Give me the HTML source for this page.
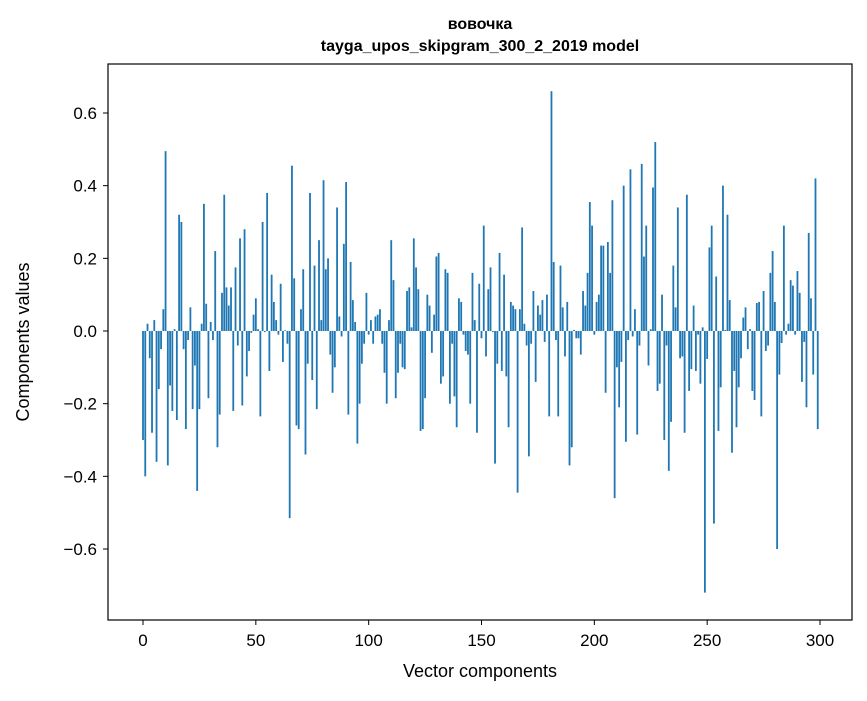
<!DOCTYPE html>
<html><head><meta charset="utf-8"><style>
body{margin:0;background:#fff;}
svg text{font-family:"Liberation Sans","DejaVu Sans",sans-serif;fill:#000;}
</style></head><body>
<svg id="chart" width="867" height="696" xmlns="http://www.w3.org/2000/svg">
<rect width="867" height="696" fill="#fff"/>
<text x="480" y="29" text-anchor="middle" font-size="16" font-weight="bold">вовочка</text>
<text x="480" y="51" text-anchor="middle" font-size="16" font-weight="bold">tayga_upos_skipgram_300_2_2019 model</text>
<g id="bars"></g>
<g id="axes"></g>
<rect x="108" y="64" width="744" height="556" fill="none" stroke="#000" stroke-width="1.2"/>
<text x="480" y="677" text-anchor="middle" font-size="18">Vector components</text>
<text transform="translate(29,342) rotate(-90)" text-anchor="middle" font-size="18">Components values</text>
</svg>
<script>
const values = [
-0.30,-0.40,0.02,-0.075,-0.28,0.03,-0.36,-0.16,-0.05,0.06,
0.495,-0.37,-0.15,-0.22,0.005,-0.245,0.32,0.30,-0.05,-0.27,
-0.025,0.065,-0.215,-0.095,-0.44,-0.215,0.02,0.35,0.075,-0.185,
0.025,-0.025,0.22,-0.32,-0.23,0.105,0.375,0.12,0.07,0.12,
-0.22,0.175,-0.04,0.255,-0.205,0.28,-0.125,-0.055,-0.005,0.045,
0.09,0.005,-0.235,0.30,-0.003,0.38,-0.11,0.155,0.08,0.03,
-0.01,0.13,-0.085,0.002,-0.035,-0.515,0.455,0.145,-0.26,-0.27,
0.06,0.17,-0.34,-0.09,0.38,-0.135,0.18,-0.215,0.25,0.03,
0.415,0.17,0.20,-0.065,-0.17,-0.10,0.34,0.04,-0.015,0.24,
0.41,-0.23,0.19,0.085,0.025,-0.31,-0.20,-0.09,-0.035,0.105,
-0.01,0.03,-0.035,0.04,0.045,0.06,-0.035,-0.115,-0.20,0.03,
0.25,0.14,-0.185,-0.115,-0.035,-0.10,-0.105,0.11,0.12,0.01,
0.255,0.175,0.115,-0.275,-0.27,-0.185,0.10,0.07,-0.06,0.045,
0.205,0.215,-0.145,-0.125,0.17,0.16,-0.20,-0.035,-0.18,-0.265,
0.09,0.08,-0.01,-0.055,-0.065,-0.20,0.16,0.03,-0.28,0.13,
-0.02,0.29,-0.07,0.115,0.175,-0.003,-0.365,-0.09,0.215,-0.11,
0.155,-0.125,-0.265,0.08,0.07,0.06,-0.445,0.06,0.285,0.02,
-0.04,-0.345,-0.035,0.11,-0.14,0.07,0.045,0.085,-0.03,0.10,
-0.235,0.66,0.19,-0.025,-0.235,0.18,0.065,-0.07,0.08,-0.37,
-0.32,0.003,-0.02,-0.02,-0.065,0.11,0.07,0.16,0.355,0.29,
-0.01,0.08,0.10,0.235,0.235,-0.17,0.245,0.16,0.36,-0.46,
-0.10,-0.21,-0.085,0.40,-0.305,-0.025,0.445,-0.015,0.06,-0.285,
-0.04,0.46,0.205,0.29,-0.095,0.005,0.395,0.52,-0.165,-0.145,
0.10,-0.30,-0.04,-0.385,-0.25,0.18,0.065,0.34,-0.075,-0.07,
-0.28,0.375,-0.165,-0.105,0.07,-0.11,-0.01,-0.145,0.01,-0.72,
-0.077,0.23,0.29,-0.53,0.15,-0.275,-0.155,0.40,0.003,0.32,
0.085,-0.335,-0.11,-0.265,-0.155,-0.075,0.037,0.065,-0.05,0.005,
-0.165,-0.19,0.077,0.08,-0.235,0.11,-0.055,-0.04,0.16,0.22,
0.08,-0.60,-0.12,-0.033,0.29,-0.01,0.02,0.14,0.125,-0.01,
0.165,0.105,-0.14,-0.03,-0.21,0.27,0.09,-0.12,0.42,-0.27
];
const xTicks = [0,50,100,150,200,250,300];
const yTicks = [-0.6,-0.4,-0.2,0.0,0.2,0.4,0.6];
const yTickLabels = ["\u22120.6","\u22120.4","\u22120.2","0.0","0.2","0.4","0.6"];

const NS = "http://www.w3.org/2000/svg";
const xScale = v => 143 + v * (677 / 300);
const yScale = v => 331 - v * (218 / 0.6);
const barW = 0.8 * (677 / 300);
const bars = document.getElementById('bars');
values.forEach((v, i) => {
  const r = document.createElementNS(NS, 'rect');
  const y0 = yScale(0), y1 = yScale(v);
  r.setAttribute('x', xScale(i) - barW / 2);
  r.setAttribute('y', Math.min(y0, y1));
  r.setAttribute('width', barW);
  r.setAttribute('height', Math.max(Math.abs(y1 - y0), 0.3));
  r.setAttribute('fill', '#1f77b4');
  
  
  bars.appendChild(r);
});
const axes = document.getElementById('axes');
xTicks.forEach(t => {
  const x = xScale(t);
  const l = document.createElementNS(NS, 'line');
  l.setAttribute('x1', x); l.setAttribute('x2', x);
  l.setAttribute('y1', 620); l.setAttribute('y2', 625);
  l.setAttribute('stroke', '#000');
  
  
  axes.appendChild(l);
  const tx = document.createElementNS(NS, 'text');
  tx.setAttribute('x', x); tx.setAttribute('y', 646);
  tx.setAttribute('text-anchor', 'middle');
  tx.setAttribute('font-size', '17');
  tx.textContent = t;
  
  
  axes.appendChild(tx);
});
yTicks.forEach((t, i) => {
  const y = yScale(t);
  const l = document.createElementNS(NS, 'line');
  l.setAttribute('x1', 103); l.setAttribute('x2', 108);
  l.setAttribute('y1', y); l.setAttribute('y2', y);
  l.setAttribute('stroke', '#000');
  
  
  axes.appendChild(l);
  const tx = document.createElementNS(NS, 'text');
  tx.setAttribute('x', 97); tx.setAttribute('y', y + 6);
  tx.setAttribute('text-anchor', 'end');
  tx.setAttribute('font-size', '17');
  tx.textContent = yTickLabels[i];
  
  
  axes.appendChild(tx);
});
</script>
</body></html>
